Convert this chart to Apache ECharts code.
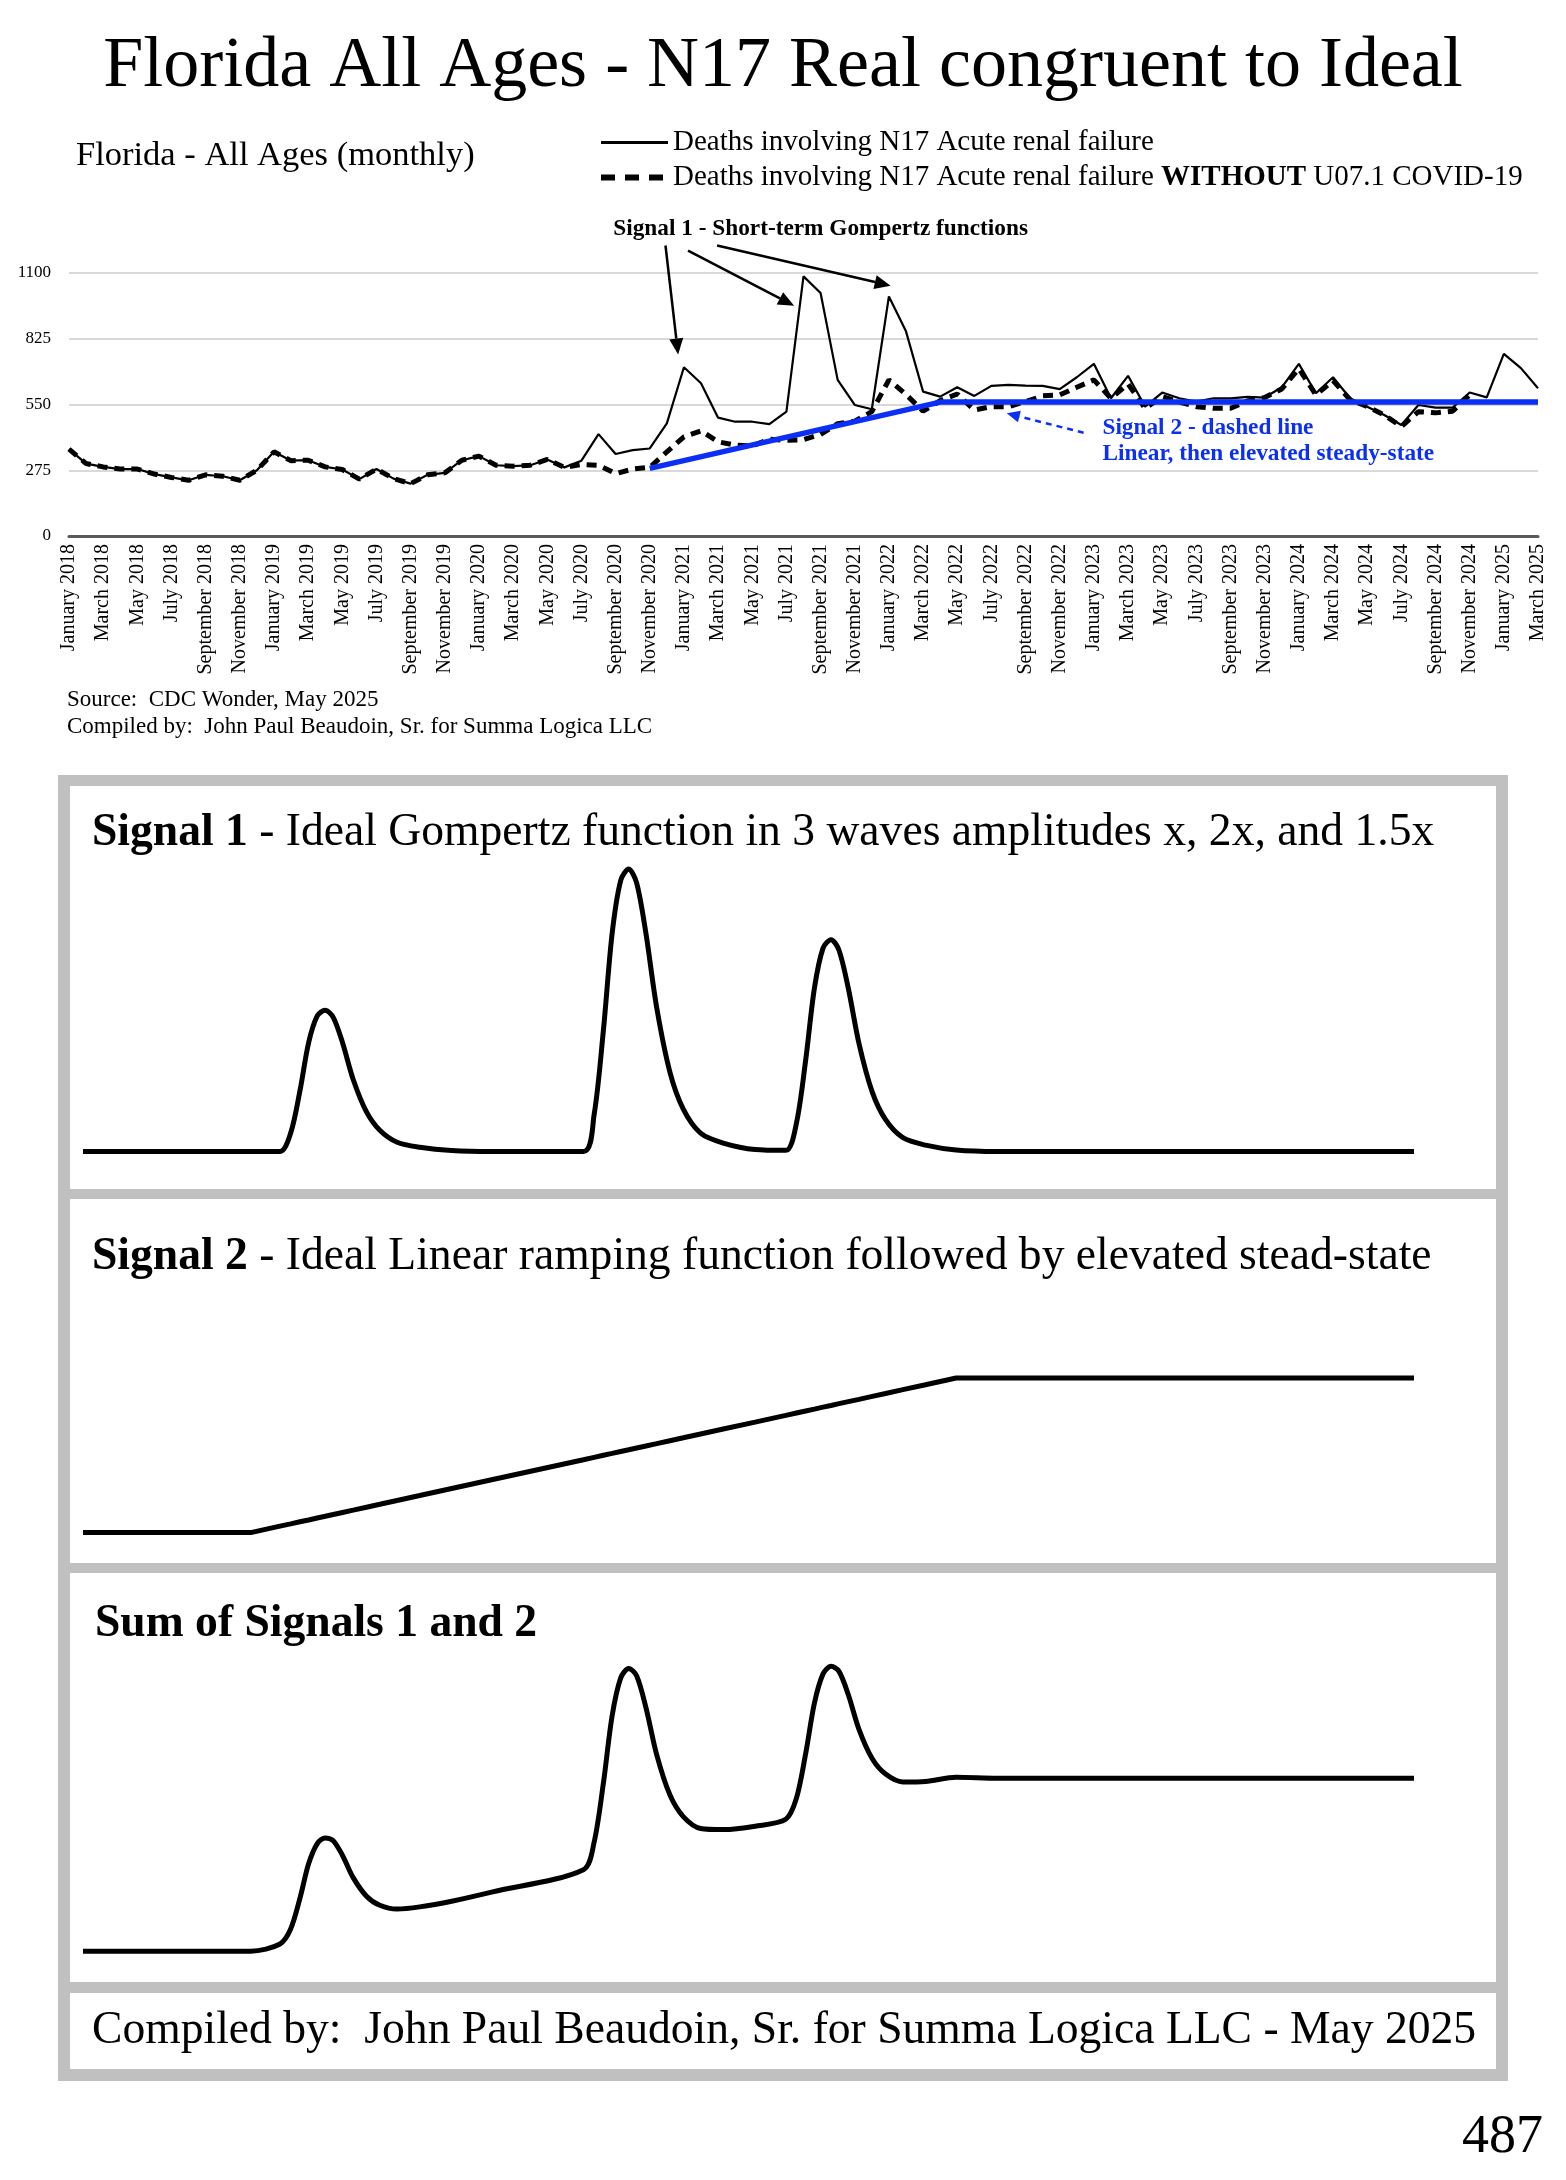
<!DOCTYPE html>
<html><head><meta charset="utf-8">
<script src="https://cdn.jsdelivr.net/npm/echarts@6/dist/echarts.min.js"></script>
<style>html,body{margin:0;padding:0;background:#fff}#c{width:1566px;height:2180px}</style>
</head><body><div id="c"></div>
<script>
// ---------------- DATA ----------------
const monthNames = ['January','February','March','April','May','June','July','August','September','October','November','December'];
const years = [2018, 2019, 2020, 2021, 2022, 2023, 2024, 2025];
const categories = [];
years.forEach(y => monthNames.forEach((m, k) => { if (y < 2025 || k < 3) categories.push(m + ' ' + y); }));

const yTicks = [0, 275, 550, 825, 1100];

// Deaths involving N17 (all), Jan 2018 - Mar 2025
const allN17 = [363,303,289,280,280,259,245,233,256,250,233,275,
  352,315,317,289,278,238,280,240,219,256,264,317,
  334,296,292,296,320,287,315,426,343,359,366,471,
  706,639,495,478,478,468,520,1086,1016,653,548,530,
  1002,856,604,583,622,586,628,632,629,628,614,664,
  720,576,670,541,600,576,562,576,576,582,579,622,
  720,597,664,576,541,506,464,548,537,537,600,580,
  762,702,618];
// Deaths involving N17 WITHOUT U07.1, Jan 2018 - Nov 2024
const withoutCovid = [363,303,289,280,280,259,245,233,256,250,233,275,
  352,315,317,289,278,238,280,240,219,256,264,317,
  334,296,292,296,320,287,299,296,261,280,287,352,
  415,440,394,380,377,405,400,403,425,470,480,520,
  653,592,522,566,594,527,541,541,562,586,590,622,
  653,576,636,534,583,560,541,534,534,565,579,615,
  700,590,650,570,541,506,458,520,515,522,590];
// Signal 2 trend (blue): month index, value
const trendIdx = [34, 51, 86];
const trendVal = [283, 560, 560];

// Ideal curves (arbitrary time units 0-100)
const idealT = [0,12.6,14.8,15.6,16.3,16.95,17.6,18.2,18.8,19.5,20.3,21.3,22.3,23.6,25.3,27.7,30.7,
  37.6,38.4,39.1,39.75,40.4,41.0,41.6,42.3,43.1,44.1,45.1,46.4,48.1,50.5,
  52.8,53.6,54.3,54.95,55.6,56.2,56.8,57.5,58.3,59.3,60.3,61.6,63.3,65.6,68.7,100];
const idealSignal1 = [0,0,0,0.13,0.43,0.77,0.96,1,0.95,0.77,0.51,0.28,0.15,0.065,0.03,0.007,0,
  0,0.26,0.86,1.54,1.92,2.0,1.9,1.54,1.02,0.56,0.30,0.13,0.06,0.014,
  0.008,0.2,0.65,1.155,1.44,1.5,1.425,1.155,0.765,0.42,0.225,0.0975,0.045,0.0105,0,0];
const idealSignal2 = [0,0,0.076,0.103,0.127,0.149,0.172,0.192,0.213,0.237,0.264,0.299,0.333,0.378,0.436,0.519,0.622,
  0.858,0.886,0.910,0.932,0.955,0.975,0.996,1.020,1.047,1.082,1.116,1.161,1.219,1.301,
  1.380,1.408,1.432,1.454,1.477,1.497,1.518,1.542,1.569,1.604,1.638,1.683,1.741,1.82,1.82,1.82];

// ---------------- CHART ----------------
const SERIF = '"Liberation Serif","Times New Roman",serif';
const BLUE = '#0b2ff5';
const PANEL_FONT = 45.6;
const chart = echarts.init(document.getElementById('c'), null, {renderer: 'canvas', width: 1566, height: 2180});

const nameAll = 'Deaths involving N17 Acute renal failure';
const nameWo = 'Deaths involving N17 Acute renal failure WITHOUT U07.1 COVID-19';

const pairs = (xs, ys) => xs.map((x, i) => [x, ys[i]]);
const idealSum = idealSignal1.map((v, i) => v + idealSignal2[i]);

function txt(x, y, text, size, extra) {
  return {
    type: 'text', z: 10,
    style: Object.assign({
      x: x, y: y, text: text, fill: '#000',
      fontFamily: SERIF, fontSize: size, fontWeight: 'normal',
      align: 'left', textAlign: 'left', verticalAlign: 'middle', textVerticalAlign: 'middle'
    }, extra || {})
  };
}
const richBase = {
  b: {fontFamily: SERIF, fontSize: PANEL_FONT, fontWeight: 'bold', fill: '#000'},
  n: {fontFamily: SERIF, fontSize: PANEL_FONT, fontWeight: 'normal', fill: '#000'}
};

const staticGraphics = [
  {type: 'rect', z: -5, shape: {x: 58, y: 775, width: 1450, height: 1306}, style: {fill: '#c0c0c0'}},
  {type: 'rect', z: -4, shape: {x: 70, y: 786, width: 1426, height: 403}, style: {fill: '#fff'}},
  {type: 'rect', z: -4, shape: {x: 70, y: 1199, width: 1426, height: 364}, style: {fill: '#fff'}},
  {type: 'rect', z: -4, shape: {x: 70, y: 1573, width: 1426, height: 409}, style: {fill: '#fff'}},
  {type: 'rect', z: -4, shape: {x: 70, y: 1993, width: 1426, height: 76}, style: {fill: '#fff'}},
  txt(76, 156, 'Florida - All Ages (monthly)', 34.5),
  txt(67, 700, 'Source:  CDC Wonder, May 2025', 23),
  txt(67, 727, 'Compiled by:  John Paul Beaudoin, Sr. for Summa Logica LLC', 23),
  txt(92, 833, '{b|Signal 1}{n| - Ideal Gompertz function in 3 waves amplitudes x, 2x, and 1.5x}', PANEL_FONT, {rich: richBase}),
  txt(92, 1257, '{b|Signal 2}{n| - Ideal Linear ramping function followed by elevated stead-state}', PANEL_FONT, {rich: richBase}),
  txt(95, 1624, 'Sum of Signals 1 and 2', PANEL_FONT, {fontWeight: 'bold'}),
  txt(92, 2031, 'Compiled by:  John Paul Beaudoin, Sr. for Summa Logica LLC - May 2025', PANEL_FONT),
  txt(1543, 2138, '487', 54, {align: 'right', textAlign: 'right'})
];

const hiddenX = (g) => ({type: 'value', gridIndex: g, min: 0, max: 100, show: false});
const hiddenY = (g, max) => ({type: 'value', gridIndex: g, min: 0, max: max, show: false});
const idealLine = (g, data, smooth) => ({
  type: 'line', xAxisIndex: g, yAxisIndex: g, data: data, smooth: smooth, showSymbol: false, symbol: 'none',
  clip: false, silent: true, lineStyle: {color: '#000', width: 5}, z: 5
});

const option = {
  animation: false,
  backgroundColor: '#fff',
  title: {
    text: 'Florida All Ages - N17 Real congruent to Ideal', left: 'center', top: 31, padding: 0,
    textStyle: {fontFamily: SERIF, fontSize: 72, fontWeight: 'normal', color: '#000'}
  },
  legend: {
    data: [
      {name: nameAll, lineStyle: {color: '#000', width: 3, type: 'solid'}},
      {name: nameWo, lineStyle: {color: '#000', width: 6, type: [14, 10]}}
    ],
    orient: 'vertical', left: 598, top: 128, padding: 0,
    itemGap: 6, itemWidth: 67, itemHeight: 14, selectedMode: false,
    itemStyle: {opacity: 0},
    textStyle: {fontFamily: SERIF, fontSize: 29, color: '#000',
      rich: {b: {fontFamily: SERIF, fontSize: 29, fontWeight: 'bold', color: '#000'}}},
    formatter: (n) => n === nameWo ? 'Deaths involving N17 Acute renal failure {b|WITHOUT} U07.1 COVID-19' : n
  },
  grid: [
    {left: 69, right: 28, top: 273, bottom: 1644},
    {left: 83, right: 152, top: 869, bottom: 1028.5},
    {left: 83, right: 152, top: 1378, bottom: 647.4},
    {left: 83, right: 152, top: 1666, bottom: 228.8}
  ],
  xAxis: [
    {type: 'category', gridIndex: 0, data: categories, boundaryGap: false,
      axisLine: {lineStyle: {color: '#595959', width: 3}},
      axisTick: {show: false},
      axisLabel: {interval: 1, rotate: 90, margin: 8, fontFamily: SERIF, fontSize: 20, color: '#000'}},
    hiddenX(1), hiddenX(2), hiddenX(3)
  ],
  yAxis: [
    {type: 'value', gridIndex: 0, min: yTicks[0], max: yTicks[yTicks.length - 1], interval: 275,
      axisLine: {show: false}, axisTick: {show: false},
      axisLabel: {fontFamily: SERIF, fontSize: 17, color: '#000', margin: 18, formatter: (v) => String(v)},
      splitLine: {lineStyle: {color: '#d9d9d9', width: 2}}},
    hiddenY(1, 2.0), hiddenY(2, 1.82), hiddenY(3, 3.0)
  ],
  series: [
    {name: nameAll, type: 'line', data: allN17, symbol: 'none', showSymbol: false,
      lineStyle: {color: '#000', width: 2.2}, itemStyle: {color: '#000'}, z: 3},
    {name: nameWo, type: 'line', data: withoutCovid, symbol: 'none', showSymbol: false,
      lineStyle: {color: '#000', width: 5, type: [10, 7]}, itemStyle: {color: '#000'}, z: 4},
    {name: 'Signal 2 trend', type: 'line', data: pairs(trendIdx, trendVal), symbol: 'none', showSymbol: false,
      lineStyle: {color: BLUE, width: 5.5}, itemStyle: {color: BLUE}, z: 5},
    idealLine(1, pairs(idealT, idealSignal1), 0.3),
    idealLine(2, pairs(idealT, idealSignal2), false),
    idealLine(3, pairs(idealT, idealSum), 0.3)
  ],
  graphic: staticGraphics
};
chart.setOption(option);

// ---------- annotations anchored to data coordinates ----------
function px(i, v) {
  const i0 = Math.floor(i), f = i - i0;
  const a = chart.convertToPixel({gridIndex: 0}, [i0, v]);
  const b = chart.convertToPixel({gridIndex: 0}, [i0 + 1, v]);
  return [a[0] + (b[0] - a[0]) * f, a[1]];
}
function arrow(p1, p2, color, width, dash, headLen, headW) {
  const dx = p2[0] - p1[0], dy = p2[1] - p1[1];
  const L = Math.sqrt(dx * dx + dy * dy), ux = dx / L, uy = dy / L;
  const bx = p2[0] - ux * headLen, by = p2[1] - uy * headLen;
  const nx = -uy * headW, ny = ux * headW;
  return [
    {type: 'line', z: 20, shape: {x1: p1[0], y1: p1[1], x2: bx, y2: by},
      style: {stroke: color, lineWidth: width, lineDash: dash || null}},
    {type: 'polygon', z: 20, shape: {points: [[p2[0], p2[1]], [bx + nx, by + ny], [bx - nx, by - ny]]},
      style: {fill: color}}
  ];
}
const ann = [];
ann.push(...arrow(px(34.92, 1215), px(35.66, 759), '#000', 2.5, null, 16, 7));
ann.push(...arrow(px(36.24, 1194), px(42.45, 963), '#000', 2.5, null, 16, 7));
ann.push(...arrow(px(37.94, 1215), px(48.1, 1047), '#000', 2.5, null, 16, 7));
ann.push(...arrow(px(59.4, 432), px(54.9, 513), BLUE, 2.5, [6, 5], 13, 6));
const s1 = px(44.0, 1284);
ann.push(txt(s1[0], s1[1], 'Signal 1 - Short-term Gompertz functions', 23.3, {fontWeight: 'bold', align: 'center', textAlign: 'center'}));
const b1 = px(60.5, 452), b2 = px(60.5, 342);
ann.push(txt(b1[0], b1[1], 'Signal 2 - dashed line', 23.3, {fontWeight: 'bold', fill: BLUE}));
ann.push(txt(b2[0], b2[1], 'Linear, then elevated steady-state', 23.3, {fontWeight: 'bold', fill: BLUE}));

chart.setOption({graphic: staticGraphics.concat(ann)});
</script>
</body></html>
